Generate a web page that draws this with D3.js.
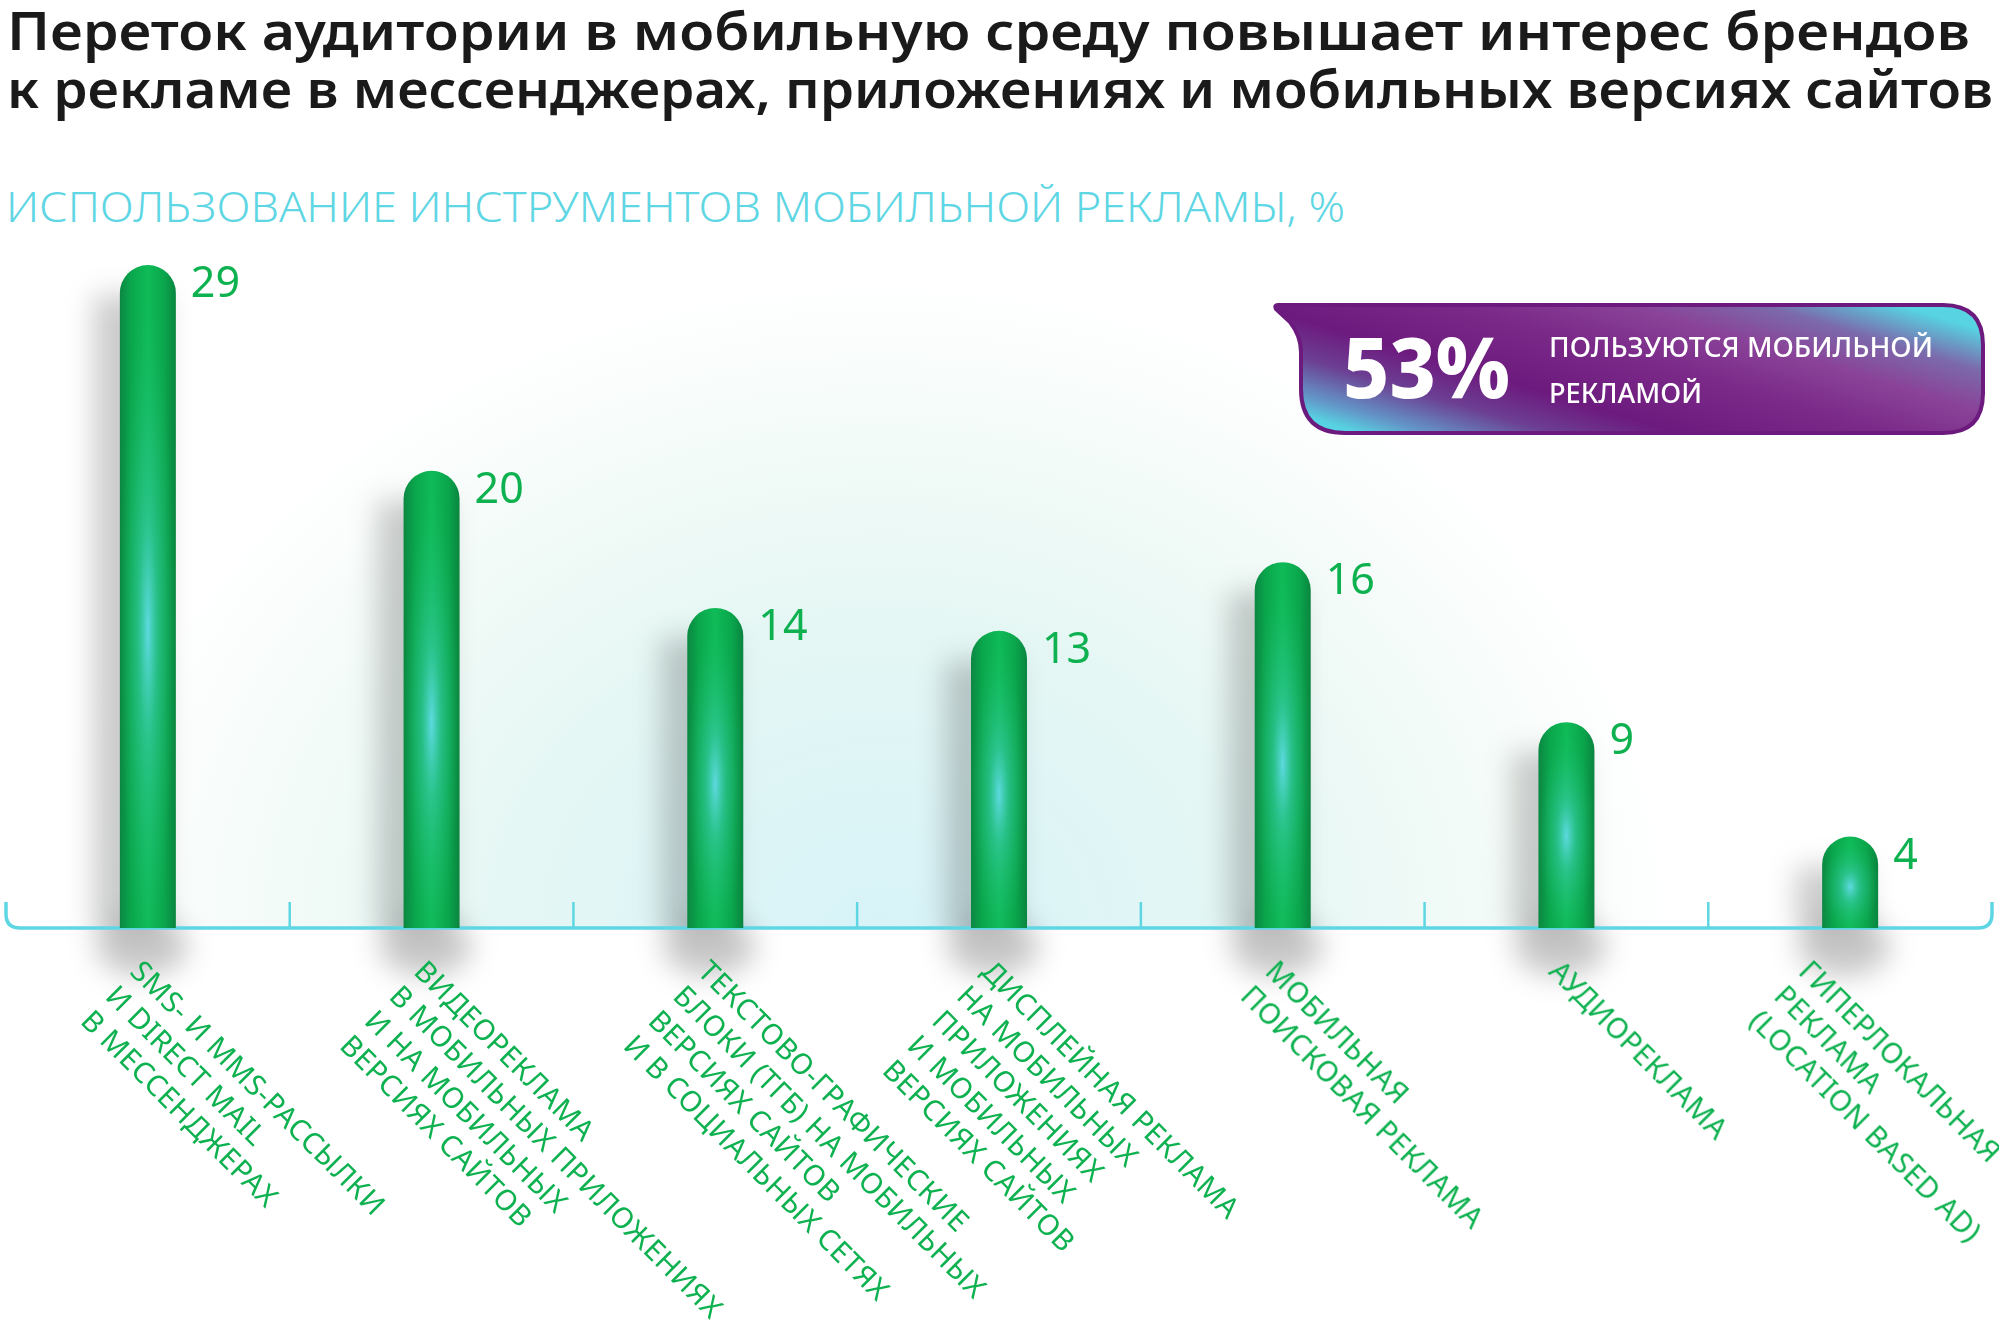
<!DOCTYPE html>
<html>
<head>
<meta charset="utf-8">
<script src="https://cdn.jsdelivr.net/npm/d3@7"></script>
<style>
  html, body { margin: 0; padding: 0; background: #fff; }
  svg { display: block; }
</style>
</head>
<body>
<div id="chart"></div>
<script>
// chart data
const categories = ["sms", "video", "tgb", "display", "search", "audio", "geo"];
const categoryLines = [
  ["SMS- И MMS-РАССЫЛКИ", "И DIRECT MAIL", "В МЕССЕНДЖЕРАХ"],
  ["ВИДЕОРЕКЛАМА", "В МОБИЛЬНЫХ ПРИЛОЖЕНИЯХ", "И НА МОБИЛЬНЫХ", "ВЕРСИЯХ САЙТОВ"],
  ["ТЕКСТОВО-ГРАФИЧЕСКИЕ", "БЛОКИ (ТГБ) НА МОБИЛЬНЫХ", "ВЕРСИЯХ САЙТОВ", "И В СОЦИАЛЬНЫХ СЕТЯХ"],
  ["ДИСПЛЕЙНАЯ РЕКЛАМА", "НА МОБИЛЬНЫХ", "ПРИЛОЖЕНИЯХ", "И МОБИЛЬНЫХ", "ВЕРСИЯХ САЙТОВ"],
  ["МОБИЛЬНАЯ", "ПОИСКОВАЯ РЕКЛАМА"],
  ["АУДИОРЕКЛАМА"],
  ["ГИПЕРЛОКАЛЬНАЯ", "РЕКЛАМА", "(LOCATION BASED AD)"]
];
const values = [29, 20, 14, 13, 16, 9, 4];
const titleLines = [
  "Переток аудитории в мобильную среду повышает интерес брендов",
  "к рекламе в мессенджерах, приложениях и мобильных версиях сайтов"
];
const subtitle = "ИСПОЛЬЗОВАНИЕ ИНСТРУМЕНТОВ МОБИЛЬНОЙ РЕКЛАМЫ, %";
const calloutValue = "53%";
const calloutLines = ["ПОЛЬЗУЮТСЯ МОБИЛЬНОЙ", "РЕКЛАМОЙ"];

const W = 1999, H = 1341;
const axisY = 928;
const green = "#0db14f", cyan = "#5ed6e3";
const font = "'Noto Sans', 'DejaVu Sans', sans-serif";

const svg = d3.select("#chart").append("svg")
  .attr("width", W).attr("height", H);
const defs = svg.append("defs");

// gradients
const glow = defs.append("radialGradient").attr("id", "glow")
  .attr("cx", 0.5).attr("cy", 0.5).attr("r", 0.5);
[[0, "#d7f3f8", 1], [0.45, "#e2f6f3", 0.9], [0.75, "#eef9f4", 0.6], [1, "#ffffff", 0]]
  .forEach(s => glow.append("stop").attr("offset", s[0]).attr("stop-color", s[1]).attr("stop-opacity", s[2]));

const barGrad = defs.append("linearGradient").attr("id", "barGrad")
  .attr("x1", 0).attr("x2", 1).attr("y1", 0).attr("y2", 0);
[[0, "#0b8742"], [0.2, "#0aa64c"], [0.5, "#0fbb57"], [0.8, "#0aa54c"], [1, "#0a853f"]]
  .forEach(s => barGrad.append("stop").attr("offset", s[0]).attr("stop-color", s[1]));

const barShine = defs.append("radialGradient").attr("id", "barShine")
  .attr("cx", 0.5).attr("cy", 0.55).attr("r", 0.5);
[[0, "#62dbe8", 0.95], [0.35, "#3ccbb0", 0.55], [1, "#1fbf70", 0]]
  .forEach(s => barShine.append("stop").attr("offset", s[0]).attr("stop-color", s[1]).attr("stop-opacity", s[2]));

const boxGrad = defs.append("linearGradient").attr("id", "boxGrad")
  .attr("x1", 0).attr("y1", 0.8).attr("x2", 1).attr("y2", 0.2);
[[0, "#57d2e2"], [0.07, "#6396c8"], [0.2, "#6c3f93"], [0.33, "#6d1a7e"], [0.55, "#7b2a89"],
 [0.72, "#8a4398"], [0.86, "#7b6aac"], [1, "#57d3e2"]]
  .forEach(s => boxGrad.append("stop").attr("offset", s[0]).attr("stop-color", s[1]));

defs.append("filter").attr("id", "blur").attr("x", "-100%").attr("y", "-50%")
  .attr("width", "300%").attr("height", "200%")
  .append("feGaussianBlur").attr("stdDeviation", 14);

defs.append("clipPath").attr("id", "aboveAxis")
  .append("rect").attr("x", 0).attr("y", 0).attr("width", W).attr("height", axisY);

// scales
const x = d3.scaleBand().domain(categories).range([6, 1992]).padding(0);
const y = d3.scaleLinear().domain([0, 29]).range([axisY, 265]);
const barW = 56, r = barW / 2;
const cx = d => x(d) + x.bandwidth() / 2;

// background glow
svg.append("ellipse")
  .attr("cx", 880).attr("cy", axisY).attr("rx", 860).attr("ry", 700)
  .attr("fill", "url(#glow)")
  .attr("clip-path", "url(#aboveAxis)");

// titles
svg.append("g").selectAll("text").data(titleLines).join("text")
  .attr("x", 7).attr("y", (d, i) => 50 + i * 58)
  .attr("textLength", (d, i) => i === 0 ? 1963 : 1986)
  .attr("lengthAdjust", "spacingAndGlyphs")
  .attr("font-family", font).attr("font-size", 52).attr("font-weight", 600)
  .attr("fill", "#1a1a1a")
  .text(d => d);

svg.append("text")
  .attr("x", 6).attr("y", 222)
  .attr("textLength", 1339).attr("lengthAdjust", "spacingAndGlyphs")
  .attr("font-family", font).attr("font-size", 43).attr("font-weight", 300)
  .attr("fill", cyan)
  .text(subtitle);

const data = categories.map((c, i) => ({ key: c, value: values[i], lines: categoryLines[i] }));

// bar shadows
const shadows = svg.append("g").attr("filter", "url(#blur)");
shadows.selectAll("rect").data(data).join("rect")
  .attr("x", d => cx(d.key) - r - 26)
  .attr("y", d => y(d.value) + 30)
  .attr("width", barW + 14)
  .attr("height", d => axisY - y(d.value) - 30)
  .attr("fill", "#000").attr("opacity", 0.2);
shadows.selectAll("ellipse").data(data).join("ellipse")
  .attr("cx", d => cx(d.key) - 6)
  .attr("cy", axisY + 18)
  .attr("rx", 46).attr("ry", 30)
  .attr("fill", "#000").attr("opacity", 0.22);

// axis line with curled ends and separators
const x0 = x.range()[0], x1 = x.range()[1];
svg.append("path")
  .attr("d", `M${x0},${axisY - 26} V${axisY - 14} Q${x0},${axisY} ${x0 + 14},${axisY}
              H${x1 - 14} Q${x1},${axisY} ${x1},${axisY - 14} V${axisY - 26}`)
  .attr("fill", "none").attr("stroke", cyan).attr("stroke-width", 3.5);

svg.append("g").selectAll("line").data(categories.slice(1)).join("line")
  .attr("x1", d => x(d)).attr("x2", d => x(d))
  .attr("y1", axisY - 26).attr("y2", axisY)
  .attr("stroke", cyan).attr("stroke-width", 2.5);

// bars
const barPath = d => {
  const left = cx(d.key) - r, top = y(d.value);
  return `M${left},${axisY} V${top + r} A${r},${r} 0 0 1 ${left + barW},${top + r} V${axisY} Z`;
};
const bars = svg.append("g");
bars.selectAll("path.bar").data(data).join("path")
  .attr("class", "bar").attr("d", barPath).attr("fill", "url(#barGrad)");
bars.selectAll("path.shine").data(data).join("path")
  .attr("class", "shine").attr("d", barPath).attr("fill", "url(#barShine)");

// value labels
svg.append("g").selectAll("text").data(data).join("text")
  .attr("x", d => cx(d.key) + r + 15)
  .attr("y", d => y(d.value) + 32)
  .attr("font-family", font).attr("font-size", 43).attr("font-weight", 400)
  .attr("fill", green)
  .text(d => d.value);

// rotated category labels
const labX = d => cx(d.key) - 19, labY = axisY + 45;
const lab = svg.append("g").selectAll("text").data(data).join("text")
  .attr("transform", d => `translate(${labX(d)},${labY}) rotate(45)`)
  .attr("font-family", font).attr("font-size", 29).attr("font-weight", 400)
  .attr("letter-spacing", 0.4)
  .attr("fill", green);
lab.selectAll("tspan").data(d => d.lines).join("tspan")
  .attr("x", 0).attr("y", (d, i) => i * 35)
  .text(d => d);

// keep the last line of each label inside the picture
lab.each(function (d) {
  const spans = this.querySelectorAll("tspan");
  const last = spans[spans.length - 1].getBoundingClientRect();
  const over = last.right - (W - 8);
  if (over > 0) {
    d3.select(this).attr("transform", `translate(${labX(d) - over},${labY}) rotate(45)`);
  }
});

// callout
const box = svg.append("g");
box.append("path")
  .attr("d", `M1278,305 H1943 Q1983,305 1983,345 V393 Q1983,433 1943,433 H1345
              Q1301,433 1301,389 V352 Q1301,336 1290,322 L1276,309 Q1274,305 1278,305 Z`)
  .attr("fill", "url(#boxGrad)")
  .attr("stroke", "#6c1a7e").attr("stroke-width", 4).attr("stroke-linejoin", "round");
box.append("text")
  .attr("x", 1343).attr("y", 398)
  .attr("textLength", 167).attr("lengthAdjust", "spacingAndGlyphs")
  .attr("font-family", font).attr("font-size", 84).attr("font-weight", 800)
  .attr("fill", "#fff")
  .text(calloutValue);
box.selectAll("text.cl").data(calloutLines).join("text")
  .attr("class", "cl")
  .attr("x", 1549).attr("y", (d, i) => 357 + i * 46)
  .attr("textLength", (d, i) => i === 0 ? 384 : 153)
  .attr("lengthAdjust", "spacingAndGlyphs")
  .attr("font-family", font).attr("font-size", 27).attr("font-weight", 500)
  .attr("fill", "#fff")
  .text(d => d);
</script>
</body>
</html>
